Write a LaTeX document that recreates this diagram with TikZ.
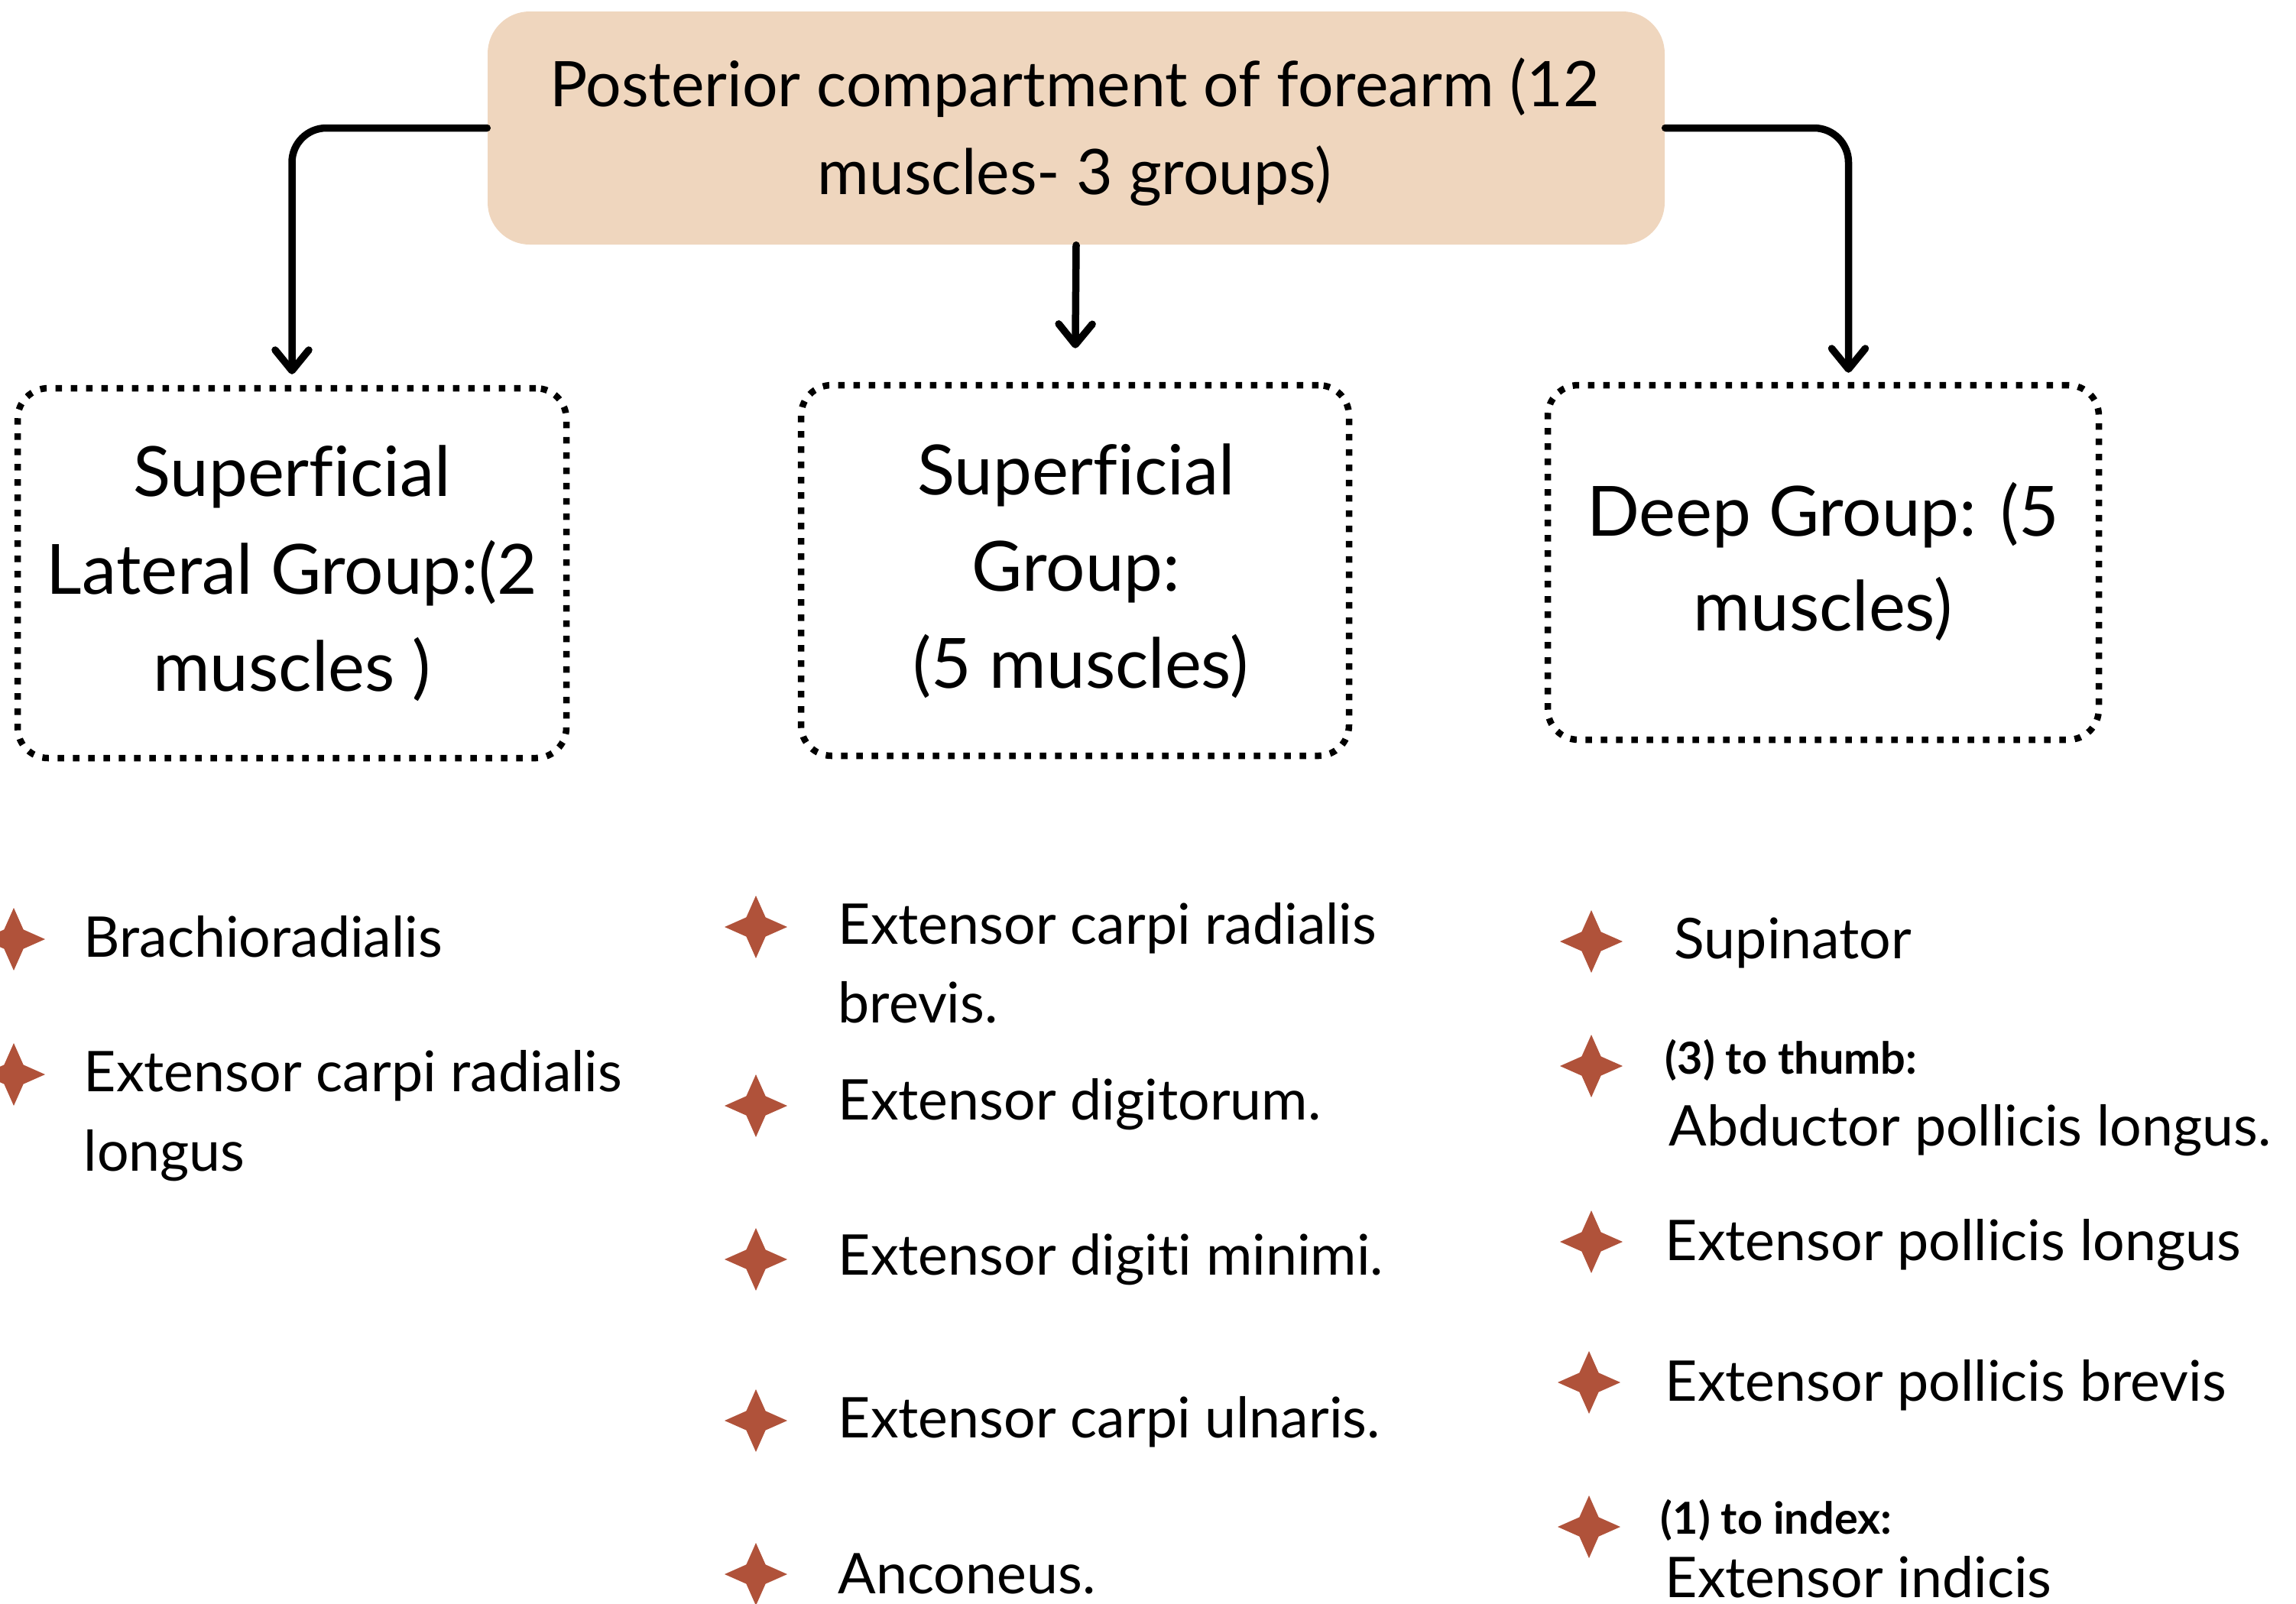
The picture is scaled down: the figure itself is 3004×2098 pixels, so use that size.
\documentclass[tikz,border=0pt]{standalone}
\usepackage{fontspec}
\setmainfont{Lato}[Ligatures={NoCommon}]
\usetikzlibrary{arrows.meta,shapes.geometric}
\definecolor{peach}{HTML}{EFD6BE}
\definecolor{starred}{HTML}{B0523A}
\begin{document}
\begin{tikzpicture}[x=0.1mm, y=-0.1mm,
  titlefont/.style={font=\fontsize{23.4}{28}\selectfont},
  boxfont/.style={font=\fontsize{25.8}{31}\selectfont},
  listfont/.style={font=\fontsize{20.9}{25}\selectfont},
  smallbold/.style={font=\fontsize{16.4}{20}\selectfont\bfseries},
  topbox/.style={fill=peach, rounded corners=5.5mm, minimum width=154mm, minimum height=30.5mm, inner sep=0},
  dotbox/.style={draw, line width=0.85mm, dash pattern=on 0.85mm off 1.15mm, rounded corners=4mm, inner sep=0},
  conn/.style={line width=0.95mm, rounded corners=4.5mm, line cap=round,
    -{Straight Barb[length=2.7mm,width=4.4mm,line cap=round,line join=round]}},
  bullet/.style={star, star points=4, star point ratio=2.3, fill=starred, minimum size=8.2mm, inner sep=0},
  ctxt/.style={anchor=base, inner sep=0},
  ltxt/.style={anchor=base west, inner sep=0}]
\useasboundingbox (0,0) rectangle (3004,2098);

% top box
\node[topbox] (T) at (1408,167.5) {};
\node[ctxt, titlefont] (t1) at (1406,139) {Posterior compartment of forearm (12};
\node[ctxt, titlefont] (t2) at (1406,254) {muscles- 3 groups)};

% group boxes
\node[dotbox, minimum width=71.8mm, minimum height=48.4mm] (L) at (382,750) {};
\node[dotbox, minimum width=71.7mm, minimum height=48.5mm] (M) at (1406.5,746.5) {};
\node[dotbox, minimum width=72.1mm, minimum height=46.4mm] (R) at (2385.5,736) {};

\node[ctxt, boxfont] (l1) at (382,649) {Superficial};
\node[ctxt, boxfont] (l2) at (382,777) {Lateral Group:(2};
\node[ctxt, boxfont] (l3) at (382,904) {muscles )};

\node[ctxt, boxfont] (m1) at (1408,647) {Superficial};
\node[ctxt, boxfont] (m2) at (1408,773) {Group:};
\node[ctxt, boxfont] (m3) at (1414,900) {(5 muscles)};

\node[ctxt, boxfont] (r1) at (2385,701) {Deep Group: (5};
\node[ctxt, boxfont] (r2) at (2385,825) {muscles)};

% connectors
\draw[conn, shorten >=1.4mm] (T.west) -| (L.north);
\draw[conn, shorten >=4.4mm] (T.south) -- (M.north);
\draw[conn, shorten >=1.2mm] (T.east) -| ([xshift=3.3mm]R.north);

% left list
\node[bullet] (bl1) at (18,1229) {};
\node[bullet] (bl2) at (18,1406) {};
\node[ltxt, listfont] (tl1) at (109,1252) {Brachioradialis};
\node[ltxt, listfont] (tl2) at (109,1428) {Extensor carpi radialis};
\node[ltxt, listfont] (tl3) at (109,1532) {longus};

% middle list
\node[bullet] (bm1) at (989,1213) {};
\node[bullet] (bm2) at (989,1447) {};
\node[bullet] (bm3) at (989,1648) {};
\node[bullet] (bm4) at (989,1859) {};
\node[bullet] (bm5) at (989,2060) {};
\node[ltxt, listfont] (tm1) at (1096,1235) {Extensor carpi radialis};
\node[ltxt, listfont] (tm2) at (1096,1338) {brevis.};
\node[ltxt, listfont] (tm3) at (1096,1465) {Extensor digitorum.};
\node[ltxt, listfont] (tm4) at (1096,1668) {Extensor digiti minimi.};
\node[ltxt, listfont] (tm5) at (1096,1881) {Extensor carpi ulnaris.};
\node[ltxt, listfont] (tm6) at (1096,2085) {Anconeus.};

% right list
\node[bullet] (br1) at (2082,1232) {};
\node[bullet] (br2) at (2082,1395) {};
\node[bullet] (br3) at (2082,1625) {};
\node[bullet] (br4) at (2079,1809) {};
\node[bullet] (br5) at (2079,1998) {};
\node[ltxt, listfont] (tr1) at (2190,1254) {Supinator};
\node[ltxt, smallbold] (tr2) at (2178,1405) {(3) to thumb:};
\node[ltxt, listfont] (tr3) at (2183,1499) {Abductor pollicis longus.};
\node[ltxt, listfont] (tr4) at (2178,1649) {Extensor pollicis longus};
\node[ltxt, listfont] (tr5) at (2178,1833) {Extensor pollicis brevis};
\node[ltxt, smallbold] (tr6) at (2172,2007) {(1) to index:};
\node[ltxt, listfont] (tr7) at (2178,2090) {Extensor indicis};
\end{tikzpicture}
\end{document}
